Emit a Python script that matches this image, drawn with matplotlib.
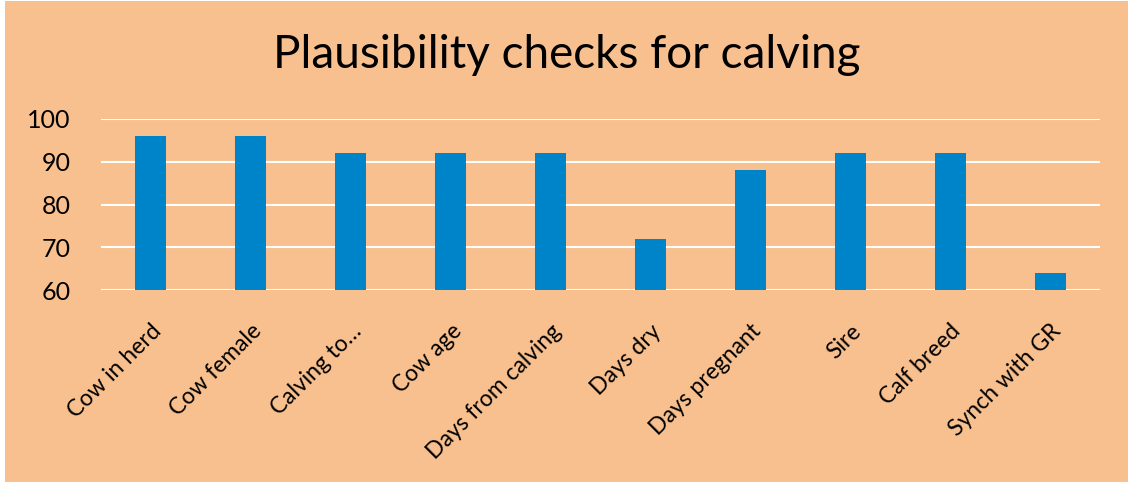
import matplotlib.pyplot as plt
from matplotlib.patches import Rectangle

categories = ["Cow in herd", "Cow female", "Calving to…", "Cow age",
              "Days from calving", "Days dry", "Days pregnant", "Sire",
              "Calf breed", "Synch with GR"]
values = [96, 96, 92, 92, 92, 72, 88, 92, 92, 64]
yticks = [60, 70, 80, 90, 100]

peach = "#F9C08F"
blue = "#0084C9"

plt.rcParams['font.family'] = ['Lato', 'DejaVu Sans']

fig = plt.figure(figsize=(11.28, 4.82), dpi=100)
fig.patch.set_facecolor("white")
fig.patches.append(Rectangle((5/1128, 0), 1 - 5/1128, 1 - 1/482,
                             transform=fig.transFigure, facecolor=peach,
                             edgecolor="none", zorder=-10))

ax = fig.add_axes([101/1128, 1 - 290/482, (1100-101)/1128, (290-119)/482])
ax.set_facecolor("none")

x = range(len(categories))
ax.bar(x, values, width=0.31, color=blue, zorder=3)
ax.set_xlim(-0.5, len(categories) - 0.5)
ax.set_ylim(60, 100)
ax.set_yticks(yticks)
ax.yaxis.grid(True, color="white", linewidth=1.5, zorder=1)
ax.tick_params(axis="y", length=0, labelsize=18, pad=22)
ax.tick_params(axis="x", length=0, labelsize=16.5, pad=22)
ax.set_xticks(list(x))
ax.set_xticklabels(categories, rotation=45, ha="right", rotation_mode="anchor")
for s in ax.spines.values():
    s.set_visible(False)

fig.text(0.502, 1 - 55/482, "Plausibility checks for calving",
         ha="center", va="center", fontsize=33)

fig.savefig("out.png", dpi=100, facecolor=fig.get_facecolor())
